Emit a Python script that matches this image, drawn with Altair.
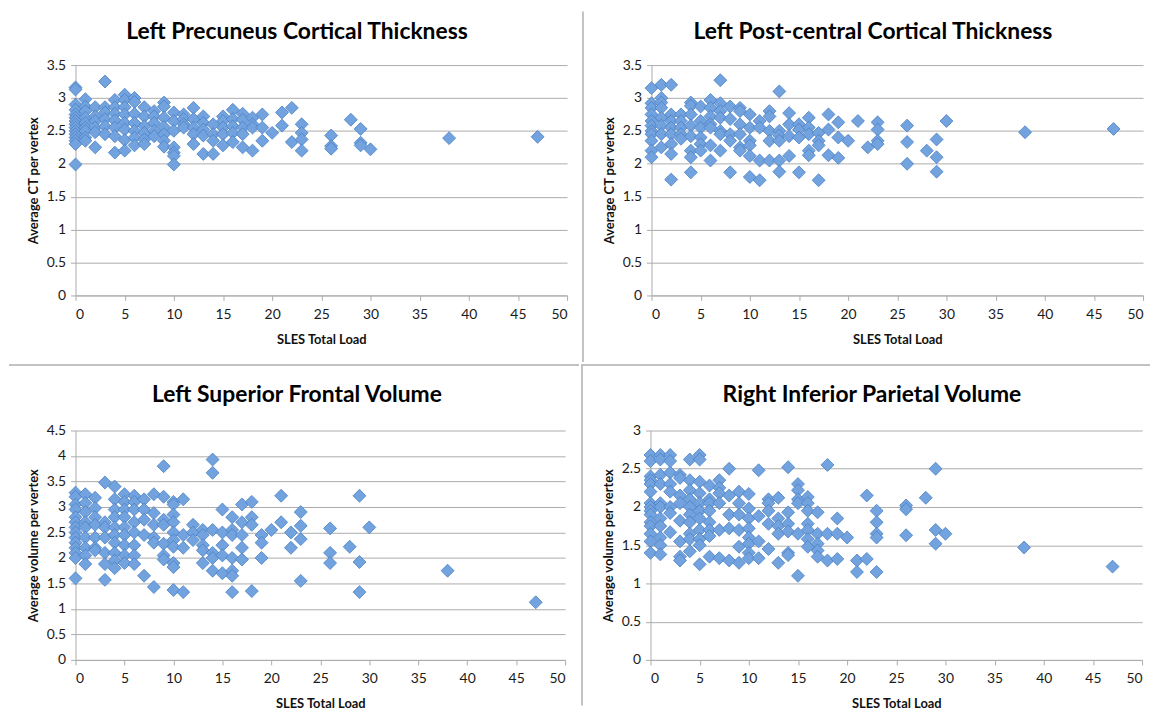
import altair as alt
import pandas as pd

# ---------------- data ----------------
sles_ticks = [0, 5, 10, 15, 20, 25, 30, 35, 40, 45, 50]

# SLES total load -> values
precuneus_ct = {
    0: [3.16, 3.13, 2.9, 2.82, 2.75, 2.7, 2.65, 2.6, 2.55, 2.5, 2.45, 2.4, 2.35, 2.3, 1.99],
    1: [2.98, 2.87, 2.8, 2.7, 2.62, 2.55, 2.5, 2.4, 2.35],
    2: [2.86, 2.72, 2.65, 2.55, 2.48, 2.25],
    3: [3.25, 2.86, 2.78, 2.68, 2.57, 2.45],
    4: [2.97, 2.86, 2.76, 2.66, 2.55, 2.42, 2.17],
    5: [3.05, 2.97, 2.86, 2.75, 2.62, 2.52, 2.36, 2.2],
    6: [3.0, 2.94, 2.76, 2.62, 2.5, 2.4, 2.28],
    7: [2.86, 2.72, 2.57, 2.47, 2.37, 2.3],
    8: [2.8, 2.72, 2.62, 2.5, 2.42],
    9: [2.93, 2.87, 2.7, 2.56, 2.45, 2.35, 2.26],
    10: [2.78, 2.65, 2.5, 2.25, 2.17, 2.12, 1.99],
    11: [2.75, 2.68, 2.6, 2.55],
    12: [2.85, 2.68, 2.55, 2.45, 2.3],
    13: [2.72, 2.62, 2.52, 2.43, 2.15],
    14: [2.6, 2.45, 2.35, 2.15],
    15: [2.72, 2.65, 2.55, 2.45, 2.28],
    16: [2.82, 2.68, 2.57, 2.47, 2.33],
    17: [2.76, 2.67, 2.55, 2.45, 2.25],
    18: [2.7, 2.6, 2.55, 2.2],
    19: [2.75, 2.55, 2.35],
    20: [2.47],
    21: [2.78, 2.58],
    22: [2.85, 2.33],
    23: [2.6, 2.47, 2.37, 2.2],
    26: [2.43, 2.27, 2.23],
    28: [2.67],
    29: [2.53, 2.32, 2.28],
    30: [2.22],
    38: [2.39],
    47: [2.41],
}

postcentral_ct = {
    0: [3.15, 2.92, 2.85, 2.75, 2.65, 2.58, 2.5, 2.45, 2.35, 2.2, 2.1],
    1: [3.2, 3.0, 2.93, 2.85, 2.7, 2.58, 2.45, 2.25],
    2: [3.2, 2.75, 2.65, 2.55, 2.45, 2.3, 2.15, 1.76],
    3: [2.75, 2.65, 2.55, 2.45, 2.38],
    4: [2.93, 2.88, 2.75, 2.58, 2.42, 2.2, 2.1, 1.87],
    5: [2.87, 2.65, 2.55, 2.4, 2.3, 2.2],
    6: [2.97, 2.85, 2.72, 2.6, 2.55, 2.28, 2.05],
    7: [3.27, 2.92, 2.8, 2.7, 2.5, 2.45, 2.2],
    8: [2.87, 2.68, 2.45, 2.35, 1.87],
    9: [2.85, 2.8, 2.6, 2.45, 2.25, 2.2],
    10: [2.75, 2.55, 2.35, 2.28, 2.12, 1.8],
    11: [2.65, 2.55, 2.05, 1.75],
    12: [2.8, 2.72, 2.5, 2.35, 2.05],
    13: [3.1, 2.5, 2.43, 2.35, 2.05, 1.88],
    14: [2.77, 2.6, 2.42, 2.12],
    15: [2.6, 2.52, 2.4, 1.87],
    16: [2.7, 2.55, 2.45, 2.2, 2.13],
    17: [2.47, 2.35, 2.28, 1.75],
    18: [2.75, 2.52, 2.13],
    19: [2.63, 2.4, 2.09],
    20: [2.35],
    21: [2.65],
    22: [2.25],
    23: [2.63, 2.52, 2.35, 2.3],
    26: [2.58, 2.33, 2.0],
    28: [2.2],
    29: [2.37, 2.1, 1.88],
    30: [2.65],
    38: [2.48],
    47: [2.53],
}

sup_frontal_vol = {
    0: [3.28, 3.2, 3.05, 2.95, 2.8, 2.7, 2.6, 2.5, 2.4, 2.3, 2.2, 2.1, 2.0, 1.6],
    1: [3.25, 3.08, 2.9, 2.7, 2.6, 2.4, 2.2, 2.05, 1.88],
    2: [3.18, 2.98, 2.8, 2.65, 2.4, 2.2, 2.15],
    3: [3.48, 2.7, 2.6, 2.4, 2.1, 1.88, 1.57],
    4: [3.4, 3.15, 2.95, 2.8, 2.6, 2.45, 2.3, 2.1, 1.95, 1.8],
    5: [3.25, 3.1, 2.95, 2.8, 2.6, 2.45, 2.25, 2.05, 1.9],
    6: [3.22, 3.1, 2.95, 2.7, 2.5, 2.25, 2.05, 1.88],
    7: [3.15, 2.95, 2.75, 2.45, 1.65],
    8: [3.25, 2.88, 2.65, 2.4, 2.3, 1.43],
    9: [3.8, 3.2, 2.75, 2.65, 2.28, 2.05, 1.97],
    10: [3.1, 3.05, 2.85, 2.7, 2.5, 2.35, 2.22, 1.9, 1.82, 1.37],
    11: [3.15, 2.45, 2.2, 1.33],
    12: [2.65, 2.5, 2.35],
    13: [2.55, 2.45, 2.25, 2.15, 1.9],
    14: [3.93, 3.67, 2.55, 2.1, 2.0, 1.75],
    15: [2.95, 2.5, 2.25, 2.05, 1.7],
    16: [2.8, 2.55, 2.45, 2.0, 1.75, 1.65, 1.33],
    17: [3.05, 2.7, 2.45, 2.2, 1.97],
    18: [3.1, 2.8, 2.65, 1.35],
    19: [2.45, 2.3, 2.0],
    20: [2.55],
    21: [3.22, 2.7],
    22: [2.5, 2.2],
    23: [2.9, 2.63, 2.37, 1.55],
    26: [2.58, 2.1, 1.9],
    28: [2.22],
    29: [3.22, 1.92, 1.33],
    30: [2.6],
    38: [1.75],
    47: [1.13],
}

inf_parietal_vol = {
    0: [2.68, 2.6, 2.4, 2.35, 2.3, 2.2, 2.05, 2.0, 1.95, 1.9, 1.8, 1.75, 1.65, 1.55, 1.4],
    1: [2.68, 2.62, 2.42, 2.3, 2.05, 2.0, 1.85, 1.75, 1.6, 1.5, 1.38],
    2: [2.68, 2.6, 2.45, 2.3, 2.2, 2.0, 1.92, 1.67],
    3: [2.42, 2.38, 2.15, 2.05, 1.82, 1.55, 1.35, 1.3],
    4: [2.62, 2.35, 2.22, 2.1, 2.0, 1.9, 1.8, 1.65, 1.58, 1.42],
    5: [2.68, 2.62, 2.33, 2.18, 2.05, 1.95, 1.85, 1.7, 1.58, 1.5, 1.25],
    6: [2.28, 2.1, 2.05, 1.95, 1.8, 1.7, 1.62, 1.35],
    7: [2.35, 2.25, 2.18, 2.05, 1.7, 1.33],
    8: [2.5, 2.15, 1.9, 1.72, 1.3],
    9: [2.2, 2.05, 1.9, 1.7, 1.48, 1.27],
    10: [2.17, 1.98, 1.85, 1.72, 1.6, 1.52, 1.4, 1.33],
    11: [2.48, 1.88, 1.55, 1.33],
    12: [2.1, 2.05, 1.95, 1.78, 1.45],
    13: [2.12, 1.85, 1.75, 1.65, 1.27],
    14: [2.52, 1.93, 1.78, 1.68, 1.4, 1.37],
    15: [2.3, 2.22, 2.1, 2.05, 1.65, 1.1],
    16: [2.13, 2.05, 1.95, 1.78, 1.7, 1.58, 1.48],
    17: [1.93, 1.65, 1.52, 1.43, 1.35],
    18: [2.55, 1.65, 1.3],
    19: [1.85, 1.65, 1.32],
    20: [1.6],
    21: [1.3, 1.15],
    22: [2.15, 1.32],
    23: [1.95, 1.8, 1.65, 1.6, 1.15],
    26: [2.02, 1.97, 1.63],
    28: [2.12],
    29: [2.5, 1.7, 1.52],
    30: [1.65],
    38: [1.47],
    47: [1.22],
}

titles = [
    "Left Precuneus Cortical Thickness",
    "Left Post-central Cortical Thickness",
    "Left Superior Frontal Volume",
    "Right Inferior Parietal Volume",
]
y_titles = [
    "Average CT per vertex",
    "Average CT per vertex",
    "Average volume per vertex",
    "Average volume per vertex",
]
y_max = [3.5, 3.5, 4.5, 3.0]

# ---------------- style ----------------
FONT = "Lato"
FILL = "#72a3de"
EDGE = "#4a7fc4"
GRID = "#ababab"
SEP = "#c2c2c2"
ONE = pd.DataFrame({"k": [0]})


def panel(data, title, ytitle, ymax, W, H, frame, title_y, seps):
    df = pd.DataFrame(
        [(x, y) for x, ys in data.items() for y in ys], columns=["load", "value"]
    )
    n = int(round(ymax / 0.5))
    yticks = [i * 0.5 for i in range(n + 1)]
    pts = alt.Chart(df).mark_point(
        shape="diamond", filled=True, size=170, fill=FILL, stroke=EDGE,
        strokeWidth=0.8, opacity=1,
    ).encode(
        x=alt.X("load:Q", scale=alt.Scale(domain=[0, 50], nice=False),
                axis=alt.Axis(values=sles_ticks, title="SLES Total Load", grid=False,
                              titleY=44, titleBaseline="middle")),
        y=alt.Y("value:Q", scale=alt.Scale(domain=[0, ymax], nice=False),
                axis=alt.Axis(values=yticks, format="~g", title=ytitle, grid=True,
                              titleX=-42, titleBaseline="middle", titleAngle=270)),
    )
    fx1, fx2, fy1, fy2 = frame
    frame_rect = alt.Chart(ONE).mark_rect(opacity=0).encode(
        x=alt.value(fx1), x2=alt.value(fx2), y=alt.value(fy1), y2=alt.value(fy2)
    )
    ttl = alt.Chart(ONE).mark_text(
        text=title, font=FONT, fontSize=23, fontWeight="bold", color="#000000",
        align="center", baseline="middle",
    ).encode(x=alt.value(223), y=alt.value(title_y))
    layers = [frame_rect]
    for (a, b, c, d) in seps:
        if a == b:
            layers.append(alt.Chart(ONE).mark_rule(color=SEP, strokeWidth=2).encode(
                x=alt.value(a), y=alt.value(c), y2=alt.value(d)))
        else:
            layers.append(alt.Chart(ONE).mark_rule(color=SEP, strokeWidth=2).encode(
                x=alt.value(a), x2=alt.value(b), y=alt.value(c)))
    layers += [pts, ttl]
    return alt.layer(*layers).properties(width=W, height=H)


p1 = panel(precuneus_ct, titles[0], y_titles[0], y_max[0], 495, 232,
           (-64, 510, -54, 299), -33, [])
p2 = panel(postcentral_ct, titles[1], y_titles[1], y_max[1], 495, 232,
           (-70, 503, -54, 299), -33, [(-69, -69, -54, 299)])
p3 = panel(sup_frontal_vol, titles[2], y_titles[2], y_max[2], 493, 231,
           (-67, 507, -67, 277), -36, [(-67, 507, -66, -66)])
p4 = panel(inf_parietal_vol, titles[3], y_titles[3], y_max[3], 495, 231,
           (-70, 503, -67, 277), -36, [(-69, -69, -67, 277), (-70, 503, -66, -66)])

chart = alt.vconcat(
    alt.hconcat(p1, p2, spacing=0),
    alt.hconcat(p3, p4, spacing=0),
    spacing=0,
).properties(padding=0).configure_view(stroke=None).configure_axis(
    labelFont=FONT, labelFontSize=14, labelColor="#1a1a1a",
    titleFont=FONT, titleFontSize=13, titleFontWeight="bold", titleColor="#111111",
    gridColor=GRID, gridWidth=1, domainColor=GRID, domainWidth=1,
    tickColor=GRID, tickSize=5, tickWidth=1,
).configure_axisX(labelPadding=7).configure_axisY(labelPadding=5)

chart.save("out.html", embed_options={"renderer": "svg", "actions": False})
